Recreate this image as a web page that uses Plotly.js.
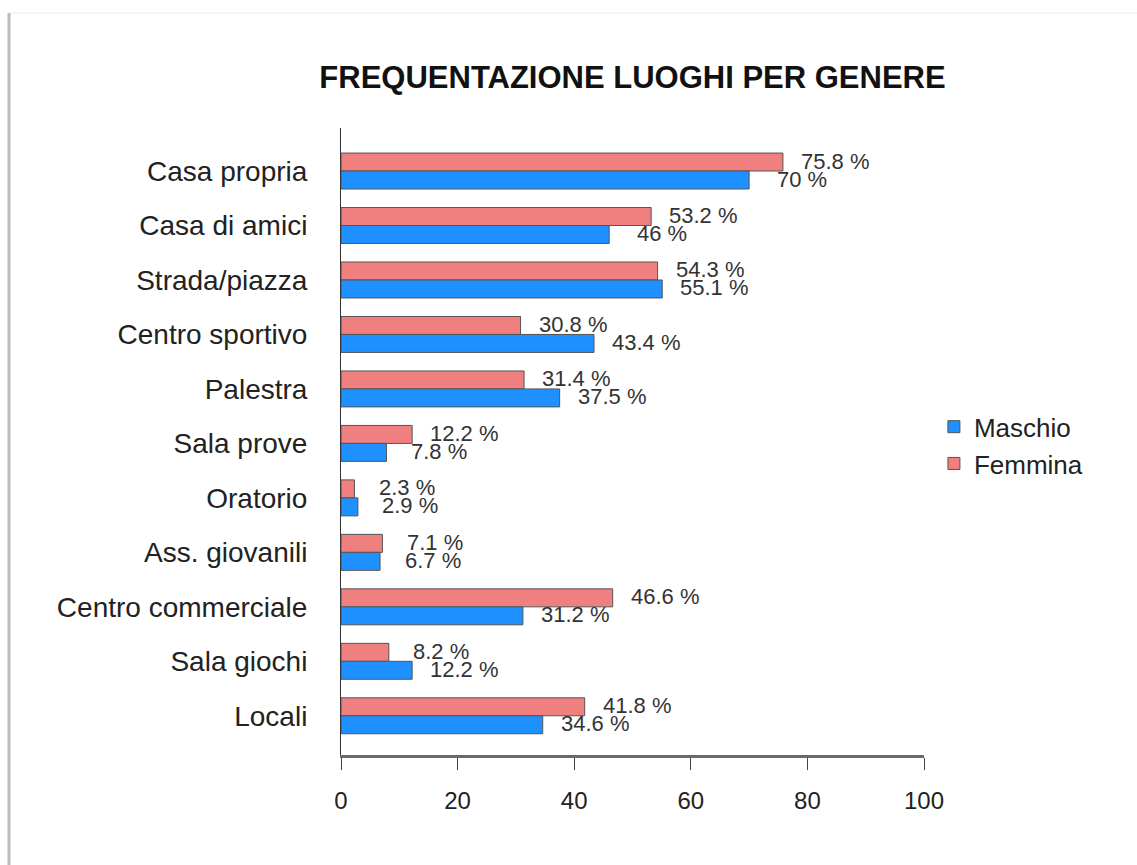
<!DOCTYPE html>
<html>
<head>
<meta charset="utf-8">
<script src="https://cdn.plot.ly/plotly-3.0.1.min.js"></script>
<style>html,body{margin:0;padding:0;background:#fff;}#chart{width:1137px;height:865px;}</style>
</head>
<body>
<div id="chart"></div>
<script>
const categories = ["Casa propria","Casa di amici","Strada/piazza","Centro sportivo","Palestra","Sala prove","Oratorio","Ass. giovanili","Centro commerciale","Sala giochi","Locali"];
const femmina = [75.8, 53.2, 54.3, 30.8, 31.4, 12.2, 2.3, 7.1, 46.6, 8.2, 41.8];
const maschio = [70, 46, 55.1, 43.4, 37.5, 7.8, 2.9, 6.7, 31.2, 12.2, 34.6];
const xTicks = [0, 20, 40, 60, 80, 100];

const FONT = "Liberation Sans, Arial, sans-serif";
const labelOffset = 9;

const traces = [
  {type:'bar', orientation:'h', name:'Femmina', y:categories, x:femmina,
   marker:{color:'#F08080', line:{color:'#555555', width:1}}, legendrank:2, hoverinfo:'x+name'},
  {type:'bar', orientation:'h', name:'Maschio', y:categories, x:maschio,
   marker:{color:'#1E90FF', line:{color:'#555555', width:1}}, legendrank:1, hoverinfo:'x+name'}
];

const annotations = [];
categories.forEach((c,i)=>{
  annotations.push({x:femmina[i]+labelOffset, y:c, xref:'x', yref:'y', text:femmina[i]+' %', showarrow:false,
    xanchor:'center', yanchor:'middle', yshift:10, font:{family:FONT, size:22, color:'#333'}});
  annotations.push({x:maschio[i]+labelOffset, y:c, xref:'x', yref:'y', text:maschio[i]+' %', showarrow:false,
    xanchor:'center', yanchor:'middle', yshift:-8, font:{family:FONT, size:22, color:'#333'}});
});

const layout = {
  width:1137, height:865,
  paper_bgcolor:'#ffffff', plot_bgcolor:'#ffffff',
  margin:{l:341, r:213, t:128, b:110},
  font:{family:FONT, color:'#222'},
  title:{text:'<b>FREQUENTAZIONE LUOGHI PER GENERE</b>', x:0.5, xref:'paper', xanchor:'center',
    y:1-77/865, yref:'container', yanchor:'middle', font:{family:FONT, size:31, color:'#111'}},
  barmode:'group', bargap:0.34, bargroupgap:0,
  xaxis:{range:[0,100], tickvals:xTicks, ticks:'outside', ticklen:12, tickwidth:1, tickcolor:'#444',
    showline:true, linecolor:'#6a6a6a', linewidth:3, showgrid:false, zeroline:false, ticklabelstandoff:10,
    tickfont:{family:FONT, size:24, color:'#222'}, fixedrange:true},
  yaxis:{type:'category', range:[10.72, -0.79], autorange:false, showline:true, linecolor:'#333', linewidth:1,
    ticks:'', showgrid:false, zeroline:false, ticklabelstandoff:27,
    tickfont:{family:FONT, size:28, color:'#222'}, fixedrange:true},
  legend:{x:1.017, xanchor:'left', y:0.494, yanchor:'middle', font:{family:FONT, size:26, color:'#222'},
    itemwidth:30, tracegroupgap:0, bgcolor:'rgba(0,0,0,0)'},
  annotations:annotations,
  shapes:[
    {type:'line', xref:'paper', yref:'paper', x0:(9-341)/583, x1:(9-341)/583, y0:(755-13)/627, y1:-(865-755)/627,
     line:{color:'#bbbbbb', width:3}},
    {type:'line', xref:'paper', yref:'paper', x0:(10-341)/583, x1:(1137-341)/583, y0:(755-13)/627, y1:(755-13)/627,
     line:{color:'#eeeeee', width:1}}
  ]
};

Plotly.newPlot('chart', traces, layout, {displayModeBar:false, staticPlot:true});
</script>
</body>
</html>
